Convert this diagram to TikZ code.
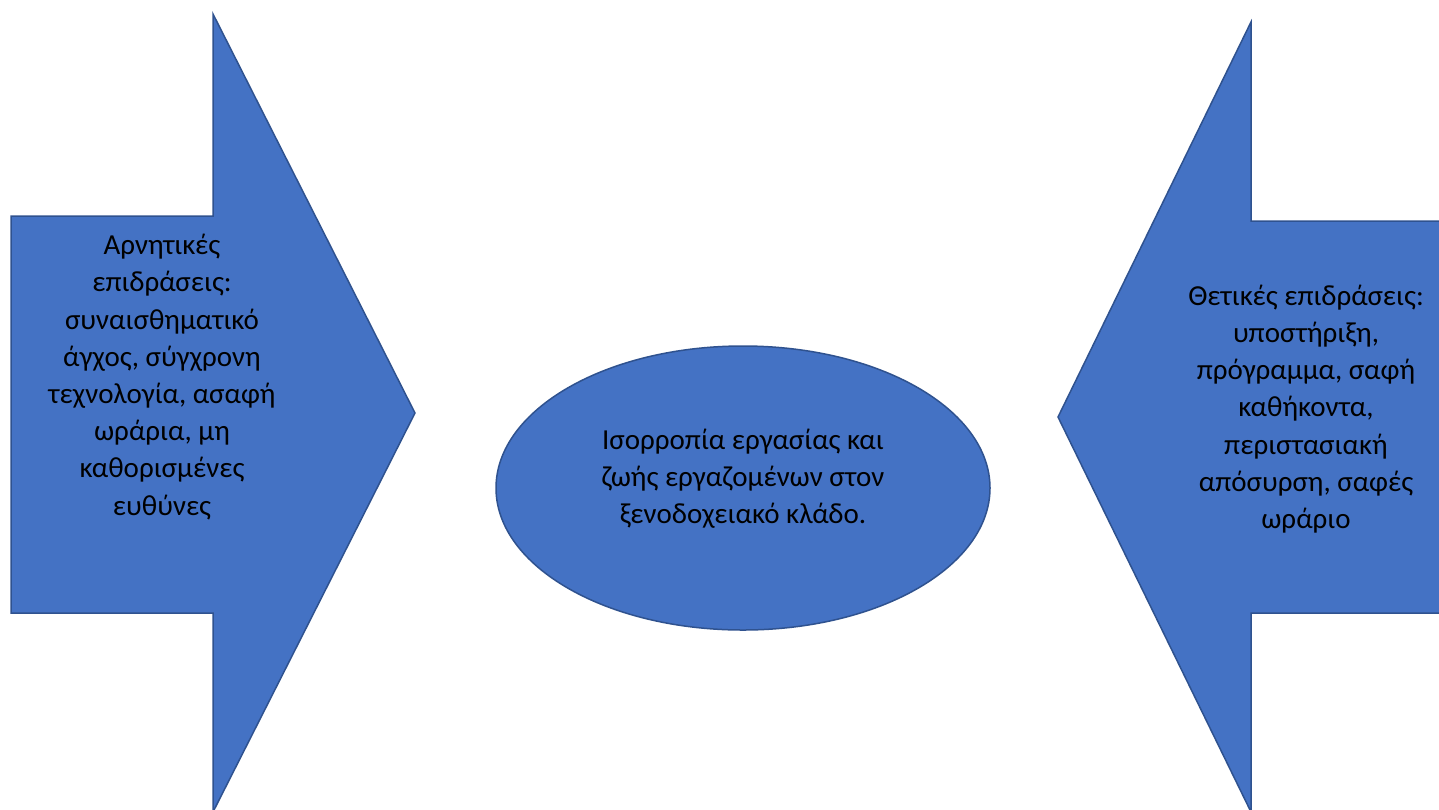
\documentclass[tikz,border=0pt]{standalone}
\usepackage{fontspec}
\setmainfont{Carlito}
\usetikzlibrary{shapes.geometric}
\definecolor{shapefill}{HTML}{4472C4}
\definecolor{shapeline}{HTML}{2F528F}
\begin{document}
\begin{tikzpicture}[x=1pt,y=-1pt,
  bluefill/.style={fill=shapefill,draw=shapeline,line width=1.5pt,line join=miter},
  textlabel/.style={align=center,font=\fontsize{29}{37.2}\selectfont,text=black,inner sep=0pt}]
\useasboundingbox (0,0) rectangle (1439,809);
\clip (0,0) rectangle (1439,809);
% left arrow
\draw[bluefill] (11,216) -- (213,216) -- (213,14) -- (415,413) -- (213,812) -- (213,613) -- (11,613) -- cycle;
% right arrow
\draw[bluefill] (1445,221) -- (1251,221) -- (1251,22) -- (1058,417) -- (1251,812) -- (1251,613) -- (1445,613) -- cycle;
% ellipse
\node[bluefill,ellipse,minimum width=494pt,minimum height=284pt,inner sep=0pt] (mid) at (743,488) {};
\node[textlabel] (midtext) at (743,479) {Ισορροπία εργασίας και\\ζωής εργαζομένων στον\\ξενοδοχειακό κλάδο.};
\node[textlabel] (lefttext) at (162,377) {Αρνητικές\\επιδράσεις:\\συναισθηματικό\\άγχος, σύγχρονη\\τεχνολογία, ασαφή\\ωράρια, μη\\καθορισμένες\\ευθύνες};
\node[textlabel] (righttext) at (1306,409) {Θετικές επιδράσεις:\\υποστήριξη,\\πρόγραμμα, σαφή\\καθήκοντα,\\περιστασιακή\\απόσυρση, σαφές\\ωράριο};
\end{tikzpicture}
\end{document}
